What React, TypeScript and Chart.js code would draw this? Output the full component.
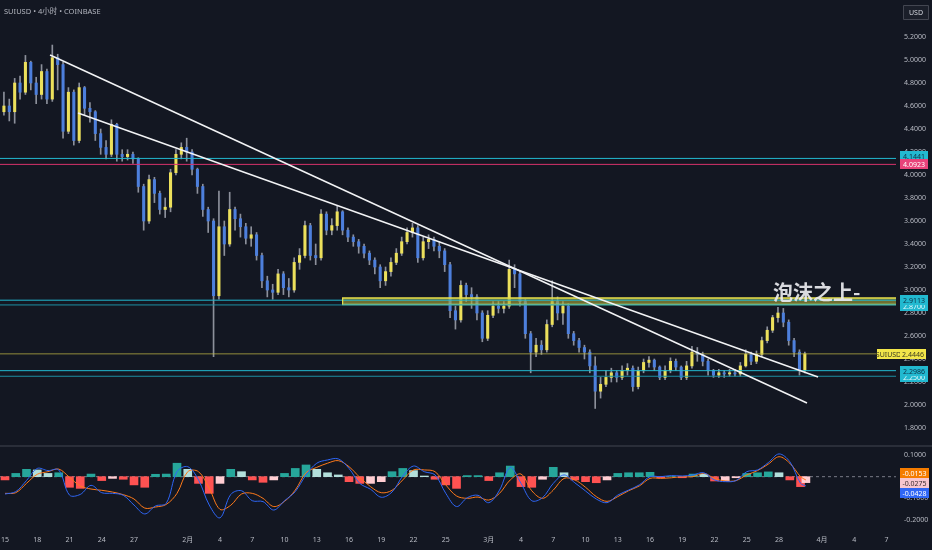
import React, { useEffect, useRef } from "react";
import { Chart, registerables } from "chart.js";

Chart.register(...registerables);

// ---------------- data ----------------
const CANDLE_START_DAY = -0.1; // day 0 = Jan 15
const CANDLE_STEP_DAYS = 0.5;
const FIRST_OPEN = 4.55;

const closes = [
  4.60, 4.55, 4.80, 4.72, 4.98, 4.80, 4.70, 4.90, 4.66, 5.02,
  4.96, 4.38, 4.72, 4.30, 4.76, 4.58, 4.55, 4.36, 4.24, 4.18,
  4.44, 4.18, 4.16, 4.18, 4.14, 3.90, 3.60, 3.96, 3.84, 3.70,
  3.72, 4.02, 4.18, 4.24, 4.20, 4.05, 3.90, 3.70, 3.60, 2.95,
  3.55, 3.40, 3.70, 3.62, 3.55, 3.45, 3.48, 3.30, 3.08, 3.00,
  2.98, 3.14, 3.02, 3.00, 3.24, 3.30, 3.56, 3.30, 3.28, 3.66,
  3.52, 3.56, 3.68, 3.52, 3.46, 3.42, 3.38, 3.32, 3.26, 3.20,
  3.08, 3.16, 3.24, 3.32, 3.42, 3.50, 3.54, 3.28, 3.42, 3.44,
  3.38, 3.34, 3.22, 2.82, 2.74, 3.04, 2.96, 2.94, 2.80, 2.58,
  2.78, 2.86, 2.84, 2.86, 3.18, 3.14, 2.90, 2.62, 2.46, 2.52,
  2.48, 2.70, 2.90, 2.80, 2.86, 2.62, 2.56, 2.50, 2.46, 2.34,
  2.12, 2.18, 2.24, 2.28, 2.24, 2.30, 2.32, 2.16, 2.30, 2.37,
  2.39, 2.33, 2.24, 2.30, 2.38, 2.33, 2.24, 2.34, 2.46, 2.44,
  2.38, 2.30, 2.26, 2.28, 2.27, 2.28, 2.27, 2.34, 2.44, 2.38,
  2.44, 2.56, 2.65, 2.76, 2.80, 2.72, 2.56, 2.46, 2.30, 2.4446,
];

const highs = [
  4.72, 4.66, 4.84, 4.86, 5.04, 4.99, 4.85, 4.96, 4.92, 5.13,
  5.05, 4.98, 4.76, 4.74, 4.80, 4.77, 4.63, 4.56, 4.40, 4.30,
  4.48, 4.45, 4.22, 4.22, 4.20, 4.15, 3.92, 4.00, 3.98, 3.86,
  3.80, 4.05, 4.22, 4.28, 4.32, 4.22, 4.06, 3.92, 3.72, 3.62,
  3.86, 3.60, 3.85, 3.72, 3.66, 3.58, 3.55, 3.50, 3.32, 3.12,
  3.05, 3.18, 3.16, 3.10, 3.28, 3.36, 3.60, 3.58, 3.40, 3.70,
  3.68, 3.62, 3.73, 3.69, 3.54, 3.48, 3.44, 3.40, 3.34, 3.28,
  3.22, 3.20, 3.28, 3.36, 3.46, 3.54, 3.58, 3.56, 3.46, 3.48,
  3.46, 3.42, 3.36, 3.24, 2.86, 3.08, 3.06, 3.02, 2.96, 2.82,
  2.82, 2.90, 2.90, 2.90, 3.26, 3.22, 3.16, 2.92, 2.64, 2.58,
  2.56, 2.74, 3.08, 2.94, 2.90, 2.88, 2.64, 2.58, 2.52, 2.48,
  2.42, 2.24, 2.30, 2.32, 2.30, 2.34, 2.36, 2.34, 2.33, 2.40,
  2.42, 2.40, 2.34, 2.34, 2.41, 2.40, 2.34, 2.38, 2.51, 2.50,
  2.46, 2.40, 2.31, 2.31, 2.30, 2.31, 2.31, 2.37, 2.48, 2.46,
  2.47, 2.59, 2.68, 2.78, 2.85, 2.84, 2.74, 2.58, 2.48, 2.46,
];

const lows = [
  4.52, 4.47, 4.45, 4.66, 4.70, 4.74, 4.62, 4.66, 4.62, 4.64,
  4.74, 4.32, 4.36, 4.26, 4.28, 4.52, 4.46, 4.30, 4.18, 4.14,
  4.16, 4.12, 4.12, 4.13, 4.10, 3.85, 3.52, 3.58, 3.76, 3.66,
  3.63, 3.68, 4.00, 4.14, 4.12, 4.00, 3.84, 3.64, 3.50, 2.42,
  2.92, 3.30, 3.38, 3.52, 3.46, 3.40, 3.38, 3.26, 3.02, 2.94,
  2.92, 2.96, 2.96, 2.94, 2.98, 3.18, 3.28, 3.26, 3.22, 3.26,
  3.48, 3.48, 3.52, 3.48, 3.42, 3.38, 3.32, 3.28, 3.22, 3.14,
  3.02, 3.04, 3.12, 3.22, 3.30, 3.40, 3.46, 3.24, 3.26, 3.36,
  3.34, 3.28, 3.16, 2.76, 2.66, 2.72, 2.90, 2.84, 2.74, 2.55,
  2.56, 2.76, 2.80, 2.80, 2.84, 3.02, 2.86, 2.58, 2.28, 2.42,
  2.44, 2.46, 2.68, 2.74, 2.70, 2.58, 2.52, 2.46, 2.40, 2.28,
  1.97, 2.06, 2.16, 2.20, 2.20, 2.22, 2.26, 2.12, 2.14, 2.28,
  2.33, 2.30, 2.22, 2.22, 2.28, 2.30, 2.22, 2.22, 2.32, 2.38,
  2.34, 2.26, 2.24, 2.24, 2.24, 2.25, 2.25, 2.25, 2.33, 2.35,
  2.36, 2.42, 2.54, 2.63, 2.72, 2.68, 2.52, 2.42, 2.26, 2.28,
];

// MACD panel: one sample per day (day 0..74) plus a final sample at day 74.5
const MACD_LAST_DAY = 74.5;
const macdValues = [
  -0.080, -0.069, -0.018, 0.038, 0.028, 0.031, -0.085, -0.082, -0.040, -0.074,
  -0.077, -0.086, -0.131, -0.172, -0.135, -0.123, 0.023, 0.046, -0.015, -0.131,
  -0.190, -0.082, -0.065, -0.111, -0.115, -0.154, -0.111, -0.069, 0.008, 0.062,
  0.077, 0.082, 0.038, -0.031, -0.058, -0.095, -0.071, 0.003, 0.049, 0.023,
  0.008, -0.077, -0.138, -0.097, -0.086, -0.120, -0.062, 0.043, -0.031, -0.111,
  -0.097, -0.031, 0.008, -0.028, -0.066, -0.103, -0.120, -0.085, -0.062, -0.038,
  0.000, 0.000, 0.005, 0.003, 0.008, 0.018, -0.015, -0.023, -0.018, 0.023,
  0.031, 0.065, 0.105, 0.069, -0.031, -0.0428,
];
const signalValues = [
  -0.077, -0.074, -0.031, 0.011, 0.023, 0.035, -0.003, -0.043, -0.057, -0.063,
  -0.071, -0.083, -0.103, -0.145, -0.140, -0.128, -0.077, 0.023, 0.023, -0.054,
  -0.151, -0.132, -0.080, -0.077, -0.100, -0.138, -0.114, -0.062, 0.018, 0.043,
  0.062, 0.074, 0.046, -0.003, -0.046, -0.074, -0.063, -0.015, 0.031, 0.031,
  0.023, -0.038, -0.089, -0.100, -0.094, -0.108, -0.077, -0.015, 0.012, -0.065,
  -0.100, -0.062, -0.008, -0.015, -0.049, -0.092, -0.114, -0.092, -0.065, -0.043,
  -0.008, -0.008, -0.005, 0.000, 0.000, 0.015, -0.008, -0.020, -0.018, 0.008,
  0.028, 0.058, 0.092, 0.062, 0.000, -0.0153,
];
const histValues = [
  -0.015, 0.015, 0.034, 0.031, 0.015, 0.018, -0.049, -0.054, 0.012, -0.018,
  -0.008, -0.012, -0.038, -0.049, 0.011, 0.012, 0.062, 0.034, -0.031, -0.077,
  -0.031, 0.034, 0.023, -0.015, -0.026, -0.015, 0.015, 0.038, 0.054, 0.034,
  0.018, 0.008, -0.023, -0.031, -0.031, -0.023, 0.023, 0.038, 0.028, 0.003,
  -0.012, -0.038, -0.054, 0.005, 0.005, -0.018, 0.018, 0.049, -0.046, -0.049,
  -0.012, 0.043, 0.018, -0.015, -0.023, -0.028, -0.015, 0.015, 0.018, 0.018,
  0.020, -0.005, 0.000, -0.005, 0.012, 0.011, -0.020, -0.018, -0.005, 0.015,
  0.018, 0.022, 0.018, -0.015, -0.046, -0.0275,
];

const xTickDays = [0, 3, 6, 9, 12, 17, 20, 23, 26, 29, 32, 35, 38, 41, 45, 48, 51, 54, 57, 60, 63, 66, 69, 72, 76, 79, 82];
const xTickLabels = ["15", "18", "21", "24", "27", "2月", "4", "7", "10", "13", "16", "19", "22", "25", "3月", "4", "7", "10", "13", "16", "19", "22", "25", "28", "4月", "4", "7"];
const priceTicks = [5.2, 5.0, 4.8, 4.6, 4.4, 4.2, 4.0, 3.8, 3.6, 3.4, 3.2, 3.0, 2.8, 2.6, 2.4, 2.2, 2.0, 1.8];
const macdTicks = [0.1, -0.1, -0.2];

const levelPrices = [4.1441, 4.0923, 2.9113, 2.87, 2.2986, 2.25];
const lastPrice = 2.4446;
const bandPrices = [2.874, 2.93];
const bandStartDay = 31.35;
const trendADays = [4.19, 74.6];
const trendAPrices = [5.043, 2.017];
const trendBDays = [6.79, 75.63];
const trendBPrices = [4.539, 2.243];
const noteDay = 71.45;
const notePrice = 2.983;

// ---------------- view settings ----------------
const X_MIN = -0.465;
const X_MAX = 82.88;
const PRICE_MAX = 5.5217;
const PRICE_MIN = 1.6348;
const MACD_MAX = 0.1369;
const MACD_MIN = -0.2461;

const BG = "#131722";
const FONT = '"Noto Sans", "Noto Sans CJK SC", sans-serif';
const AXIS_TEXT = "#b8bbc4";
const UP = "#ece05c";
const DOWN = "#4d7fdc";
const WICK = "#8c909b";
const levelColors = ["#22b9d0", "#d6336c", "#22b9d0", "#1d8fa3", "#22b9d0", "#1d8fa3"];

const candleDay = (i: number) => CANDLE_START_DAY + i * CANDLE_STEP_DAYS;
const opens = closes.map((c, i) => (i === 0 ? FIRST_OPEN : closes[i - 1]));
const macdDay = (i: number) => (i < macdValues.length - 1 ? i : MACD_LAST_DAY);

function drawTag(ctx: CanvasRenderingContext2D, x: number, cy: number, w: number, h: number, bg: string, fg: string, text: string) {
  ctx.fillStyle = bg;
  ctx.fillRect(x, Math.round(cy - h / 2), w, h);
  ctx.fillStyle = fg;
  ctx.font = `7px ${FONT}`;
  ctx.textAlign = "center";
  ctx.textBaseline = "middle";
  ctx.fillText(text, x + w / 2, Math.round(cy - h / 2) + h / 2 + 0.5);
}

const mainOverlay = {
  id: "mainOverlay",
  afterDraw(chart: any) {
    const ctx: CanvasRenderingContext2D = chart.ctx;
    const ys = chart.scales.y;
    const xs = chart.scales.x;
    ctx.save();
    // header
    ctx.font = `7.5px ${FONT}`;
    ctx.fillStyle = "#b2b5be";
    ctx.textAlign = "left";
    ctx.textBaseline = "middle";
    ctx.fillText("SUIUSD • 4小时 • COINBASE", 4, 12);
    // USD box
    ctx.fillStyle = "#1b1f2a";
    ctx.strokeStyle = "#434651";
    ctx.lineWidth = 1;
    ctx.beginPath();
    ctx.rect(903.5, 5.5, 25, 14);
    ctx.fill();
    ctx.stroke();
    ctx.fillStyle = "#d1d4dc";
    ctx.font = `7px ${FONT}`;
    ctx.textAlign = "center";
    ctx.fillText("USD", 916, 13);
    // left edge of the band
    const bx = xs.getPixelForValue(bandStartDay);
    ctx.fillStyle = "#e9e24c";
    ctx.fillRect(bx, ys.getPixelForValue(bandPrices[1]), 1.2, ys.getPixelForValue(bandPrices[0]) - ys.getPixelForValue(bandPrices[1]));
    // panel separator
    ctx.fillStyle = "#2a2e39";
    ctx.fillRect(0, 445, 932, 2);

    // price tags on the axis
    const tx = 900;
    const tw = 28;
    const th = 10;
    const p = (v: number) => ys.getPixelForValue(v);
    drawTag(ctx, tx, Math.min(p(levelPrices[0]), p(levelPrices[1]) - 8), tw, th, "#22b9d0", "#0d2f44", levelPrices[0].toFixed(4));
    drawTag(ctx, tx, p(levelPrices[1]), tw, th, "#e8437a", "#ffffff", levelPrices[1].toFixed(4));
    drawTag(ctx, tx, p(levelPrices[3]) + 1, tw, th, "#22b9d0", "#e0f7fa", levelPrices[3].toFixed(4));
    drawTag(ctx, tx, p(levelPrices[2]), tw, th, "#22b9d0", "#0d2f44", levelPrices[2].toFixed(4));
    drawTag(ctx, 877, p(lastPrice), 23, th, "#f2e64a", "#3a3a20", "SUIUSD");
    drawTag(ctx, tx, p(lastPrice), 26, th, "#f2e64a", "#3a3a20", lastPrice.toFixed(4));
    drawTag(ctx, tx, p(levelPrices[5]) + 1, tw, th, "#22b9d0", "#e0f7fa", levelPrices[5].toFixed(4));
    drawTag(ctx, tx, p(levelPrices[4]), tw, th, "#22b9d0", "#0d2f44", levelPrices[4].toFixed(4));

    // annotation text
    ctx.font = `bold 20px "Noto Sans CJK SC", ${FONT}`;
    ctx.fillStyle = "rgba(232,234,238,0.93)";
    ctx.textAlign = "left";
    ctx.textBaseline = "middle";
    ctx.fillText("泡沫之上-", xs.getPixelForValue(noteDay), ys.getPixelForValue(notePrice));
    ctx.restore();
  },
};

const macdOverlay = {
  id: "macdOverlay",
  afterDraw(chart: any) {
    const ctx: CanvasRenderingContext2D = chart.ctx;
    const ys = chart.scales.y;
    const n = macdValues.length - 1;
    ctx.save();
    const cy = ys.getPixelForValue(histValues[n]);
    drawTag(ctx, 900, cy - 10, 29, 10, "#f57c00", "#ffffff", signalValues[n].toFixed(4));
    drawTag(ctx, 900, cy, 29, 10, "#f7c6cf", "#3b2b30", histValues[n].toFixed(4));
    drawTag(ctx, 900, cy + 10, 29, 10, "#2f66f5", "#ffffff", macdValues[n].toFixed(4));
    ctx.restore();
  },
};

function hLine(price: number, color: string, width: number, from = X_MIN, to = X_MAX, dash: number[] = []) {
  return {
    type: "line" as const,
    data: [{ x: from, y: price }, { x: to, y: price }],
    borderColor: color,
    borderWidth: width,
    borderDash: dash,
    pointRadius: 0,
    fill: false,
    order: 1,
  };
}

export default function App() {
  const mainRef = useRef<HTMLCanvasElement>(null);
  const macdRef = useRef<HTMLCanvasElement>(null);

  useEffect(() => {
    const bodyColors = closes.map((c, i) => (c >= opens[i] ? UP : DOWN));
    const mainDatasets: any[] = [
      {
        type: "bar",
        data: closes.map((c, i) => ({ x: candleDay(i), y: [Math.min(lows[i], opens[i], c), Math.max(highs[i], opens[i], c)] })),
        backgroundColor: WICK,
        barThickness: 1,
        grouped: false,
        order: 6,
      },
      {
        type: "bar",
        data: closes.map((c, i) => ({ x: candleDay(i), y: [opens[i], c] })),
        backgroundColor: bodyColors,
        barThickness: 2.4,
        minBarLength: 1,
        grouped: false,
        order: 5,
      },
      ...levelPrices.map((lp, i) => hLine(lp, levelColors[i], 1)),
      hLine(lastPrice, "rgba(190,182,70,0.75)", 1),
      {
        ...hLine(bandPrices[1], "#e9e24c", 1.5, bandStartDay, X_MAX),
      },
      {
        ...hLine(bandPrices[0], "#a8e58c", 1.5, bandStartDay, X_MAX),
        fill: "-1",
        backgroundColor: "rgba(170,166,58,0.62)",
      },
      {
        type: "line",
        data: trendADays.map((d, i) => ({ x: d, y: trendAPrices[i] })),
        borderColor: "#f2f3f5",
        borderWidth: 1.5,
        pointRadius: 0,
        fill: false,
        order: 0,
      },
      {
        type: "line",
        data: trendBDays.map((d, i) => ({ x: d, y: trendBPrices[i] })),
        borderColor: "#f2f3f5",
        borderWidth: 1.5,
        pointRadius: 0,
        fill: false,
        order: 0,
      },
    ];

    const main = new Chart(mainRef.current as HTMLCanvasElement, {
      type: "line",
      data: { datasets: mainDatasets },
      options: {
        responsive: false,
        maintainAspectRatio: false,
        animation: false,
        events: [],
        layout: { padding: 0 },
        plugins: { legend: { display: false }, tooltip: { enabled: false } },
        scales: {
          x: { type: "linear", min: X_MIN, max: X_MAX, display: false, offset: false },
          y: {
            type: "linear",
            position: "right",
            min: PRICE_MIN,
            max: PRICE_MAX,
            grid: { display: false, drawTicks: false },
            border: { display: false },
            ticks: {
              color: AXIS_TEXT,
              font: { size: 7, family: FONT },
              padding: 8,
              autoSkip: false,
              callback: (v: any) => Number(v).toFixed(4),
            },
            afterBuildTicks: (s: any) => {
              s.ticks = priceTicks.map((v) => ({ value: v }));
            },
            afterFit: (s: any) => {
              s.width = 36;
              s.paddingTop = 0;
              s.paddingBottom = 0;
            },
          },
        },
      } as any,
      plugins: [mainOverlay],
    });

    const histColors = histValues.map((h, i) => {
      const prev = i === 0 ? 0 : histValues[i - 1];
      if (h >= 0) return h >= prev ? "#26a69a" : "#b2dfdb";
      return h < prev ? "#ff5252" : "#ffcdd2";
    });

    const macd = new Chart(macdRef.current as HTMLCanvasElement, {
      type: "line",
      data: {
        datasets: [
          { ...hLine(0, "#787b86", 1, X_MIN, X_MAX, [3, 3]), order: 4 },
          {
            type: "bar",
            data: histValues.map((h, i) => ({ x: macdDay(i), y: h })),
            backgroundColor: histColors,
            barThickness: 8,
            grouped: false,
            order: 3,
          },
          {
            type: "line",
            data: signalValues.map((v, i) => ({ x: macdDay(i), y: v })),
            borderColor: "#ff7a1a",
            borderWidth: 1,
            pointRadius: 0,
            tension: 0.35,
            fill: false,
            order: 1,
          },
          {
            type: "line",
            data: macdValues.map((v, i) => ({ x: macdDay(i), y: v })),
            borderColor: "#2f66f5",
            borderWidth: 1,
            pointRadius: 0,
            tension: 0.35,
            fill: false,
            order: 0,
          },
        ] as any,
      },
      options: {
        responsive: false,
        maintainAspectRatio: false,
        animation: false,
        events: [],
        layout: { padding: 0 },
        plugins: { legend: { display: false }, tooltip: { enabled: false } },
        scales: {
          x: {
            type: "linear",
            min: X_MIN,
            max: X_MAX,
            offset: false,
            grid: { display: false, drawTicks: false },
            border: { display: false },
            ticks: {
              color: AXIS_TEXT,
              font: { size: 7, family: FONT },
              padding: 6,
              autoSkip: false,
              maxRotation: 0,
              minRotation: 0,
              callback: (_v: any, idx: number) => xTickLabels[idx],
            },
            afterBuildTicks: (s: any) => {
              s.ticks = xTickDays.map((v) => ({ value: v }));
            },
            afterFit: (s: any) => {
              s.height = 20;
              s.paddingLeft = 0;
              s.paddingRight = 0;
            },
          },
          y: {
            type: "linear",
            position: "right",
            min: MACD_MIN,
            max: MACD_MAX,
            grid: { display: false, drawTicks: false },
            border: { display: false },
            ticks: {
              color: AXIS_TEXT,
              font: { size: 7, family: FONT },
              padding: 8,
              autoSkip: false,
              callback: (v: any) => Number(v).toFixed(4),
            },
            afterBuildTicks: (s: any) => {
              s.ticks = macdTicks.map((v) => ({ value: v }));
            },
            afterFit: (s: any) => {
              s.width = 36;
              s.paddingTop = 0;
              s.paddingBottom = 0;
            },
          },
        },
      } as any,
      plugins: [macdOverlay],
    });

    return () => {
      main.destroy();
      macd.destroy();
    };
  }, []);

  return (
    <div style={{ position: "fixed", left: 0, top: 0, width: 932, height: 550, background: BG, overflow: "hidden" }}>
      <canvas ref={mainRef} width={932} height={447} style={{ display: "block", width: 932, height: 447 }} />
      <canvas ref={macdRef} width={932} height={103} style={{ display: "block", width: 932, height: 103 }} />
    </div>
  );
}
